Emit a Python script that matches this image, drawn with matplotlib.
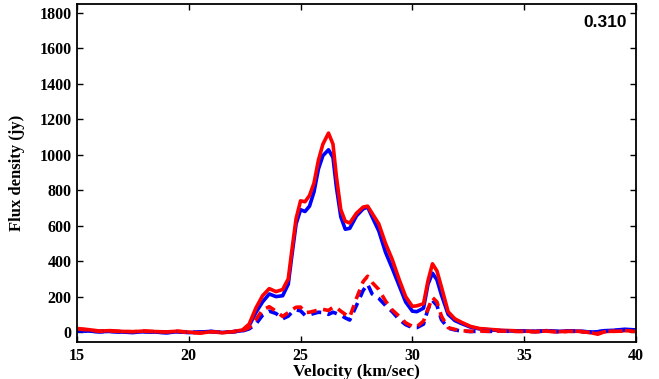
import matplotlib
matplotlib.use('Agg')
import matplotlib.pyplot as plt
import numpy as np

# velocity channels (km/sec)
velocity = [15.0, 15.5, 16.0, 16.5, 17.0, 17.5, 18.0, 18.5, 19.0, 19.5,
            20.0, 20.5, 21.0, 21.5, 22.0, 22.4, 22.7, 23.0, 23.3, 23.6,
            23.9, 24.2, 24.45, 24.6, 24.8, 25.0, 25.2, 25.4, 25.6, 25.8,
            26.0, 26.25, 26.45, 26.6, 26.8, 27.0, 27.2, 27.5, 27.8, 28.0,
            28.2, 28.5, 28.8, 29.1, 29.4, 29.7, 30.0, 30.2, 30.5, 30.7,
            30.9, 31.1, 31.3, 31.6, 31.9, 32.2, 32.6, 33.0, 33.5, 34.0,
            34.5, 35.0, 35.5, 36.0, 36.5, 37.0, 37.5, 38.0, 38.3, 38.6,
            39.0, 39.5, 40.0]

# total flux, red and blue spectra
red_total = [20, 14, 6, 8, 4, 2, 6, 3, 1, 5,
             0, -6, 2, -4, 3, 12, 45, 135, 205, 245,
             228, 240, 300, 450, 640, 740, 735, 770, 840, 970,
             1060, 1122, 1060, 880, 690, 625, 615, 670, 705, 710,
             670, 610, 500, 410, 300, 200, 145, 148, 160, 290,
             385, 345, 255, 115, 75, 55, 32, 20, 15, 10,
             8, 5, 3, 6, 2, 5, 4, -4, -12, 3,
             5, 8, 5]
blue_total = [10, 6, 2, 4, 0, -2, 2, 0, -4, 2,
              -3, 0, 4, -2, 2, 8, 35, 110, 170, 215,
              200, 205, 270, 420, 610, 690, 680, 710, 790, 920,
              995, 1028, 985, 820, 650, 580, 585, 655, 695, 705,
              650, 570, 450, 360, 265, 170, 118, 115, 135, 270,
              332, 295, 210, 100, 65, 48, 28, 18, 12, 8,
              6, 6, 4, 8, 4, 6, 5, 0, 2, 8,
              10, 16, 12]

# polarized flux, red and blue spectra
red_pol = [18, 12, 4, 6, 3, 2, 5, 2, 0, 4,
           -2, -4, 2, -2, 2, 8, 25, 70, 125, 143,
           118, 88, 110, 125, 140, 141, 110, 112, 118, 125,
           128, 122, 140, 138, 118, 100, 85, 190, 285, 315,
           280, 240, 175, 125, 90, 52, 32, 30, 62, 130,
           195, 170, 90, 25, 15, 8, 4, 6, 4, 6,
           4, 3, 2, 5, 1, 4, 3, -3, -8, 2,
           4, 6, 4]
blue_pol = [8, 5, 2, 3, 0, -2, 2, 0, -3, 2,
            -2, 0, 3, -2, 2, 6, 18, 45, 95, 118,
            105, 75, 90, 110, 125, 120, 95, 98, 105, 112,
            110, 100, 112, 105, 95, 80, 68, 150, 235, 270,
            215, 190, 150, 115, 72, 42, 25, 25, 45, 130,
            178, 150, 70, 22, 12, 6, 3, 5, 4, 6,
            4, 5, 3, 6, 3, 5, 4, 0, 2, 6,
            8, 12, 10]

phase_label = '0.310'

plt.rcParams['font.family'] = ['Liberation Serif', 'DejaVu Serif']
plt.rcParams['font.weight'] = 'bold'

fig = plt.figure(figsize=(6.59, 3.79), dpi=100)
ax = fig.add_axes([0.1168, 0.0976, 0.8482, 0.8918])

lw = 2.6
ax.plot(velocity, blue_total, color='blue', linewidth=lw)
ax.plot(velocity, red_total, color='red', linewidth=lw)
ax.plot(velocity, blue_pol, color='blue', linewidth=lw, dashes=(2.8, 1.8))
ax.plot(velocity, red_pol, color='red', linewidth=lw, dashes=(2.8, 1.8))

ax.set_xlim(15, 40)
ax.set_ylim(-56, 1850)
ax.set_xticks(np.arange(15, 41, 5))
ax.set_yticks(np.arange(0, 1801, 200))
ax.tick_params(direction='in', top=True, right=True, length=4, width=1,
               labelsize=11.5, pad=4)
for lab in ax.get_xticklabels() + ax.get_yticklabels():
    lab.set_fontweight('bold')
for sp in ax.spines.values():
    sp.set_linewidth(1.3)

ax.set_xlabel('Velocity (km/sec)', fontsize=12.5, fontweight='bold', labelpad=0)
ax.set_ylabel('Flux density (jy)', fontsize=12, fontweight='bold', labelpad=10)

ax.text(0.984, 0.944, phase_label, transform=ax.transAxes, ha='right', va='center',
        fontsize=12.5, fontweight='bold', family='Liberation Sans')

fig.savefig('out.png', dpi=100)
